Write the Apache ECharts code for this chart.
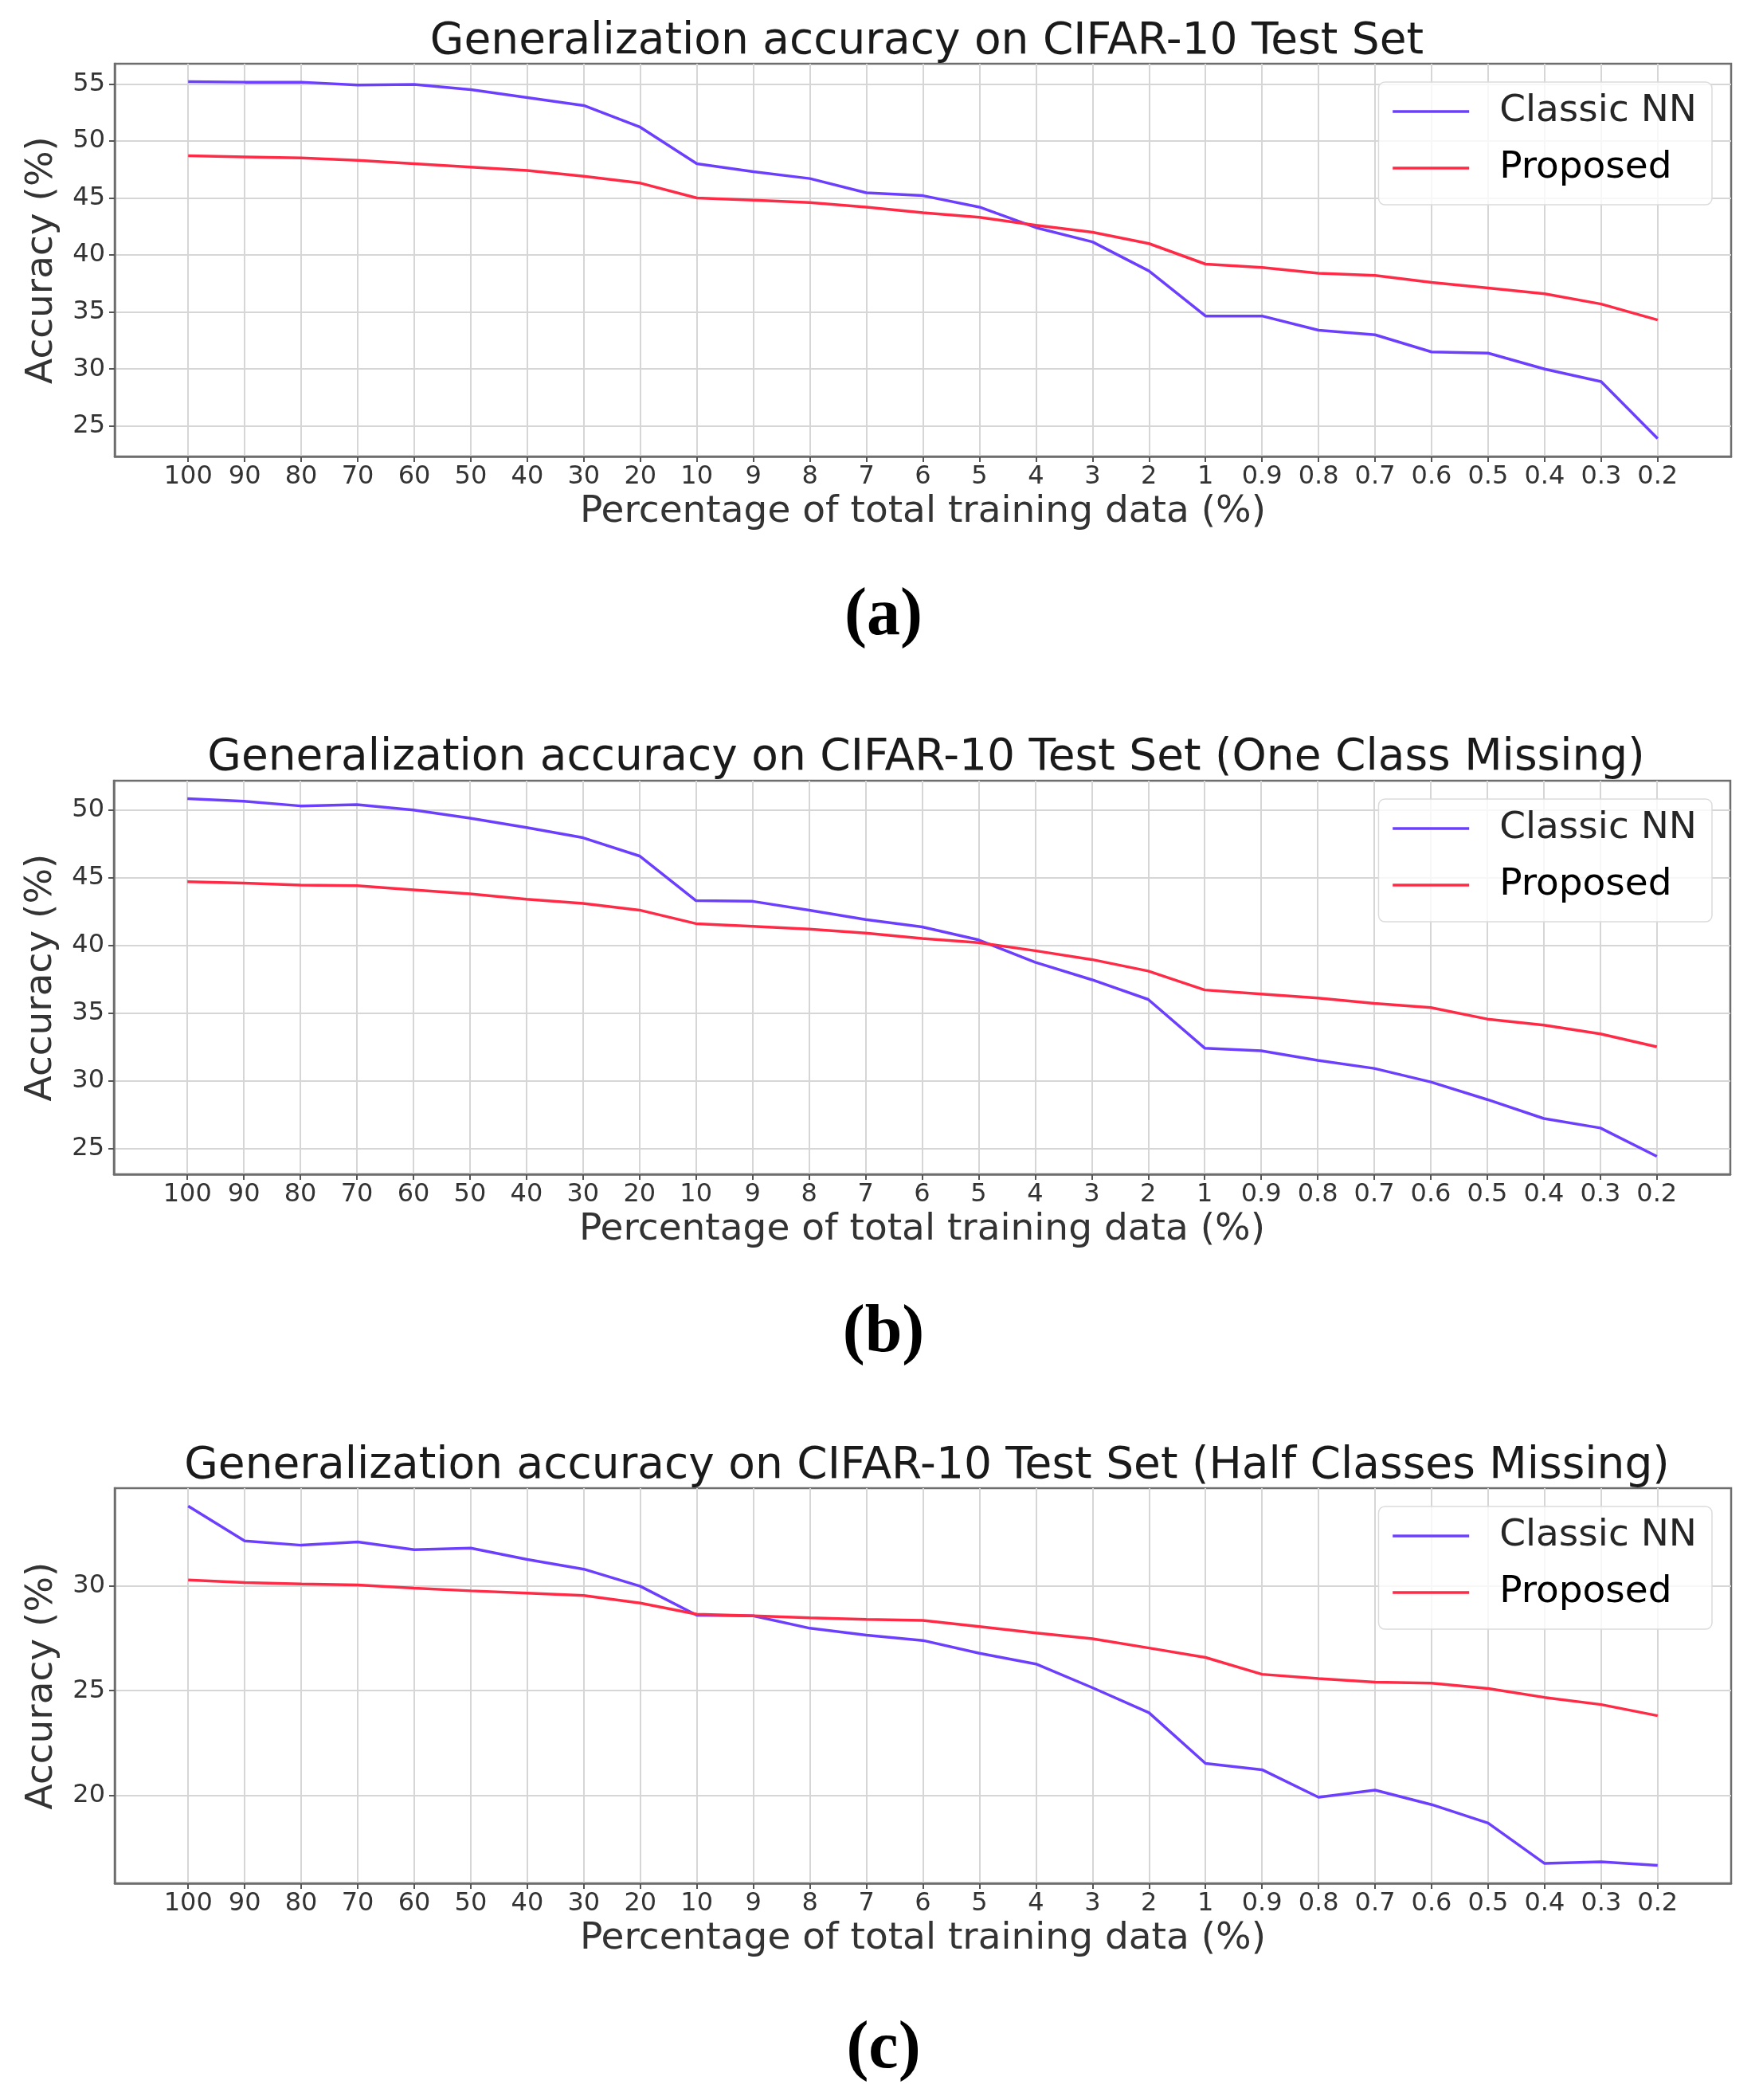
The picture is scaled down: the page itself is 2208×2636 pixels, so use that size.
<!DOCTYPE html>
<html><head><meta charset="utf-8">
<script src="https://cdn.jsdelivr.net/npm/echarts@6/dist/echarts.min.js"></script>
<style>html,body{margin:0;padding:0;background:#fff}#c{width:2208px;height:2636px}</style>
</head><body><div id="c"></div>
<script>
const categories = ['100','90','80','70','60','50','40','30','20','10','9','8','7','6','5','4','3','2','1','0.9','0.8','0.7','0.6','0.5','0.4','0.3','0.2'];
const chartTitles = [
  'Generalization accuracy on CIFAR-10 Test Set',
  'Generalization accuracy on CIFAR-10 Test Set (One Class Missing)',
  'Generalization accuracy on CIFAR-10 Test Set (Half Classes Missing)'
];
const panelLetters = ['a', 'b', 'c'];
const seriesNames = ['Classic NN', 'Proposed'];

const classicA  = [55.2,55.15,55.15,54.9,54.95,54.5,53.8,53.1,51.2,48.0,47.3,46.7,45.45,45.2,44.2,42.4,41.15,38.6,34.65,34.65,33.4,33.0,31.5,31.4,30.0,28.9,23.9];
const proposedA = [48.7,48.6,48.5,48.3,48.0,47.7,47.4,46.9,46.3,45.0,44.8,44.6,44.2,43.7,43.3,42.6,42.0,41.0,39.2,38.9,38.4,38.2,37.6,37.1,36.6,35.7,34.3];
const classicB  = [50.84,50.65,50.3,50.4,50.0,49.4,48.7,47.95,46.6,43.3,43.25,42.6,41.9,41.36,40.4,38.75,37.46,36.0,32.4,32.2,31.5,30.9,29.9,28.6,27.2,26.5,24.4];
const proposedB = [44.7,44.6,44.45,44.4,44.1,43.8,43.4,43.1,42.6,41.6,41.4,41.2,40.9,40.5,40.2,39.6,38.95,38.1,36.7,36.4,36.1,35.7,35.4,34.55,34.1,33.45,32.5];
const classicC  = [33.78,32.12,31.92,32.08,31.71,31.78,31.24,30.78,29.97,28.59,28.56,27.97,27.64,27.39,26.78,26.27,25.14,23.95,21.54,21.24,19.93,20.27,19.58,18.7,16.78,16.86,16.69];
const proposedC = [30.27,30.14,30.08,30.03,29.88,29.75,29.64,29.53,29.17,28.64,28.56,28.47,28.39,28.34,28.05,27.75,27.47,27.03,26.58,25.78,25.58,25.41,25.36,25.1,24.68,24.34,23.81];

const yTicksA = [25,30,35,40,45,50,55];
const yTicksB = [25,30,35,40,45,50];
const yTicksC = [20,25,30];

const panels = [
  {classic: classicA, proposed: proposedA, ticks: yTicksA},
  {classic: classicB, proposed: proposedB, ticks: yTicksB},
  {classic: classicC, proposed: proposedC, ticks: yTicksC}
];

// layout (pixels)
const layout = [
  {top: 80,   height: 493, left: 144, right: 35, titleTop: 18,   labelTop: 724},
  {top: 980,  height: 494, left: 143, right: 36, titleTop: 917,  labelTop: 1624},
  {top: 1868, height: 496, left: 144, right: 35, titleTop: 1806, labelTop: 2523}
];

const COL_CLASSIC = '#6c3fff';
const COL_PROPOSED = '#ff2a45';
const FONT = 'DejaVu Sans';
const xIdx = categories.map((c, i) => i);

const option = {
  backgroundColor: '#fff',
  animation: false,
  title: [], grid: [], xAxis: [], yAxis: [], series: [], legend: []
};

panels.forEach((p, k) => {
  const L = layout[k];
  const plotCenter = L.left + (2208 - L.left - L.right) / 2;
  option.title.push({
    text: chartTitles[k], left: plotCenter, top: L.titleTop, textAlign: 'center',
    textStyle: {fontFamily: FONT, fontSize: 55, fontWeight: 'normal', color: '#1a1a1a', lineHeight: 60}
  });
  option.title.push({
    text: '{p|(}{b|' + panelLetters[k] + '}{p|)}', left: 1104, top: L.labelTop, textAlign: 'center',
    textStyle: {
      rich: {
        p: {fontFamily: 'Liberation Serif', fontSize: 84, color: '#000', lineHeight: 90},
        b: {fontFamily: 'Liberation Serif', fontSize: 84, fontWeight: 'bold', color: '#000', lineHeight: 90}
      }
    }
  });
  option.grid.push({
    left: L.left, right: L.right, top: L.top, height: L.height,
    show: true, borderColor: '#6e6e6e', borderWidth: 2.5, backgroundColor: 'transparent'
  });
  option.xAxis.push({
    type: 'value', gridIndex: k,
    min: v => v.min - 0.05 * (v.max - v.min),
    max: v => v.max + 0.05 * (v.max - v.min),
    name: 'Percentage of total training data (%)', nameLocation: 'middle', nameGap: 46,
    nameTextStyle: {fontFamily: FONT, fontSize: 47, color: '#333'},
    axisLine: {show: true, onZero: false, lineStyle: {color: '#6e6e6e', width: 2.5}},
    axisTick: {show: true, length: 7, customValues: xIdx, lineStyle: {color: '#555', width: 2}},
    axisLabel: {show: true, customValues: xIdx, margin: 10, fontFamily: FONT, fontSize: 32, color: '#333',
      formatter: v => categories[Math.round(v)] || ''},
    splitLine: {show: true, lineStyle: {color: '#d6d6d6', width: 2}}
  });
  option.yAxis.push({
    type: 'value', gridIndex: k,
    min: v => v.min - 0.05 * (v.max - v.min),
    max: v => v.max + 0.05 * (v.max - v.min),
    name: 'Accuracy (%)', nameLocation: 'middle', nameGap: 68,
    nameTextStyle: {fontFamily: FONT, fontSize: 47, color: '#333'},
    axisLine: {show: true, onZero: false, lineStyle: {color: '#6e6e6e', width: 2.5}},
    axisTick: {show: true, length: 7, customValues: p.ticks, lineStyle: {color: '#555', width: 2}},
    axisLabel: {show: true, customValues: p.ticks, margin: 12, fontFamily: FONT, fontSize: 32, color: '#333'},
    splitLine: {show: true, lineStyle: {color: '#d6d6d6', width: 2}}
  });
  option.series.push({
    name: seriesNames[0], type: 'line', xAxisIndex: k, yAxisIndex: k, symbol: 'none',
    lineStyle: {color: COL_CLASSIC, width: 3.5}, itemStyle: {color: COL_CLASSIC},
    data: p.classic.map((v, i) => [i, v]), z: 3
  });
  option.series.push({
    name: seriesNames[1], type: 'line', xAxisIndex: k, yAxisIndex: k, symbol: 'none',
    lineStyle: {color: COL_PROPOSED, width: 3.5}, itemStyle: {color: COL_PROPOSED},
    data: p.proposed.map((v, i) => [i, v]), z: 3
  });
  option.legend.push({
    data: [
      {name: seriesNames[0], textStyle: {color: '#262626'}},
      {name: seriesNames[1], textStyle: {color: '#000'}}
    ],
    orient: 'vertical', right: 59, top: L.top + 23,
    itemWidth: 96, itemHeight: 20, itemGap: 19,
    padding: [11, 19, 20, 16],
    itemStyle: {color: 'rgba(0,0,0,0)', borderWidth: 0, opacity: 0},
    lineStyle: {width: 3.5},
    backgroundColor: 'rgba(255,255,255,0.8)', borderColor: '#dcdcdc', borderWidth: 1.5, borderRadius: 8,
    textStyle: {fontFamily: FONT, fontSize: 47, lineHeight: 52, padding: [0, 0, 0, 33]},
    selectedMode: false
  });
});

const chart = echarts.init(document.getElementById('c'));
chart.setOption(option);
</script>
</body></html>
